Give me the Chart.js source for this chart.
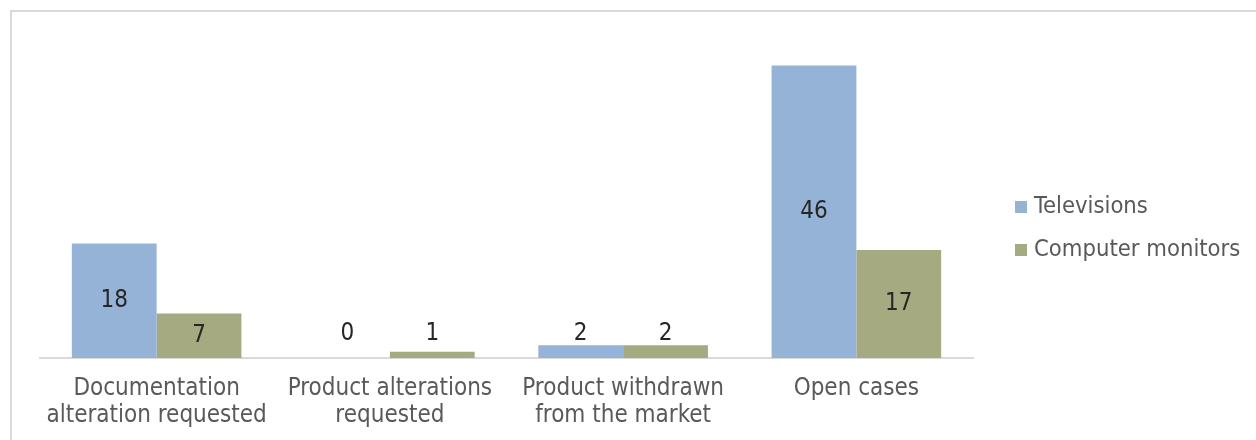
<!DOCTYPE html>
<html>
<head>
<meta charset="utf-8">
<script src="https://cdn.jsdelivr.net/npm/chart.js@4.4.1/dist/chart.umd.min.js"></script>
<style>
  html, body { margin: 0; padding: 0; background: #ffffff; }
  #wrap { position: relative; width: 1256px; height: 440px; overflow: hidden; }
  #frame { position: absolute; left: 10px; top: 10px; width: 1260px; height: 450px;
           border-left: 2px solid #d9d9d9; border-top: 2px solid #d9d9d9; box-sizing: border-box; }
  canvas { position: absolute; left: 0; top: 0; }
</style>
</head>
<body>
<div id="wrap">
  <div id="frame"></div>
  <canvas id="c" width="1256" height="440"></canvas>
</div>
<script>
const categories = [
  ["Documentation", "alteration requested"],
  ["Product alterations", "requested"],
  ["Product withdrawn", "from the market"],
  ["Open cases"]
];
const seriesNames = ["Televisions", "Computer monitors"];
const televisions = [18, 0, 2, 46];
const computerMonitors = [7, 1, 2, 17];
const seriesColors = ["#95b3d7", "#a5aa80"];

const FONT = "'DejaVu Sans Condensed', 'DejaVu Sans', sans-serif";

const valueLabels = {
  id: 'valueLabels',
  afterDatasetsDraw(chart) {
    const ctx = chart.ctx;
    const base = chart.scales.y.getPixelForValue(0);
    ctx.save();
    ctx.font = "24px " + FONT;
    ctx.fillStyle = "#262626";
    ctx.textAlign = "center";
    ctx.textBaseline = "middle";
    chart.data.datasets.forEach((ds, di) => {
      chart.getDatasetMeta(di).data.forEach((bar, i) => {
        const h = base - bar.y;
        let y = (bar.y + base) / 2;
        if (h < 30) y = base - 24;
        ctx.fillText(String(ds.data[i]), bar.x, y);
      });
    });
    ctx.restore();
  }
};

const customLegend = {
  id: 'customLegend',
  afterDraw(chart) {
    const ctx = chart.ctx;
    ctx.save();
    ctx.font = "23.6px " + FONT;
    ctx.textBaseline = "middle";
    ctx.textAlign = "left";
    const ys = [207, 250];
    chart.data.datasets.forEach((ds, i) => {
      ctx.fillStyle = ds.backgroundColor;
      ctx.fillRect(1015, ys[i] - 6, 12, 12);
      ctx.fillStyle = "#595959";
      ctx.fillText(ds.label, 1034, ys[i]);
    });
    ctx.restore();
  }
};

new Chart(document.getElementById('c'), {
  type: 'bar',
  data: {
    labels: categories,
    datasets: [
      { label: seriesNames[0], data: televisions, backgroundColor: seriesColors[0] },
      { label: seriesNames[1], data: computerMonitors, backgroundColor: seriesColors[1] }
    ]
  },
  options: {
    responsive: false,
    animation: false,
    devicePixelRatio: 1,
    layout: { padding: { left: 40, right: 283, top: 40, bottom: 0 } },
    datasets: { bar: { categoryPercentage: 0.727, barPercentage: 1.0, borderWidth: 0 } },
    plugins: { legend: { display: false }, tooltip: { enabled: false } },
    scales: {
      x: {
        afterFit(scale) { scale.height -= 6; },
        grid: { display: false, drawTicks: false },
        border: { display: true, color: "#d9d9d9", width: 2 },
        ticks: { color: "#595959", font: { family: FONT, size: 24, lineHeight: 1.125 }, padding: 17, maxRotation: 0, autoSkip: false }
      },
      y: { display: false, min: 0, max: 50 }
    }
  },
  plugins: [valueLabels, customLegend]
});
</script>
</body>
</html>
